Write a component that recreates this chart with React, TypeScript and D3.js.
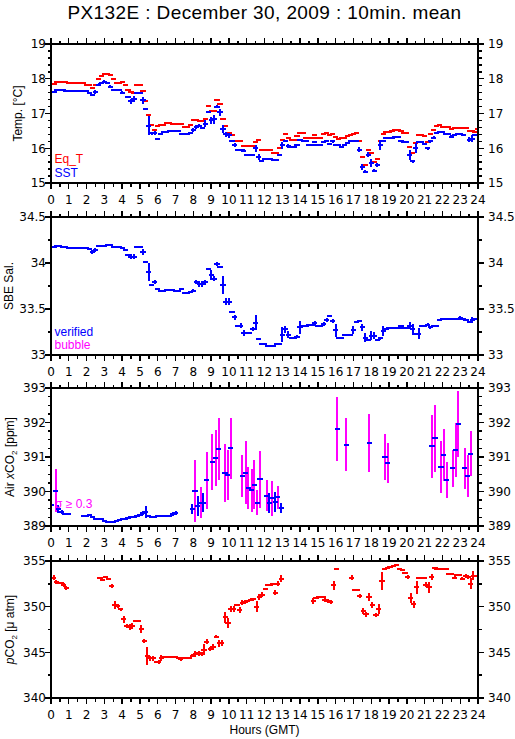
import React from "react";
import * as d3 from "d3";

type Rec = [number, number, number, number]; // t0, t1, value, half error

const TITLE = "PX132E : December 30, 2009 : 10min. mean";
const HOUR_TICKS = d3.range(0, 25);
const TEMP_TICKS = [15, 16, 17, 18, 19];
const SAL_TICKS = [33, 33.5, 34, 34.5];
const XCO2_TICKS = [389, 390, 391, 392, 393];
const PCO2_TICKS = [340, 345, 350, 355];
const SIGMA_LIMIT = 0.3;

const EQ_T: Rec[] = [
  [0, 0.17, 17.85, 0], [0.33, 0.5, 17.9, 0], [0.67, 0.83, 17.91, 0], [1.0, 1.83, 17.88, 0],
  [2.0, 2.17, 17.83, 0], [2.33, 2.33, 17.73, 0], [2.5, 2.5, 17.82, 0], [2.67, 2.67, 18.0, 0],
  [2.83, 2.83, 18.08, 0], [3.0, 3.17, 18.13, 0], [3.33, 3.33, 18.1, 0], [3.5, 3.5, 17.98, 0],
  [3.67, 3.83, 17.88, 0], [4.0, 4.0, 17.9, 0], [4.17, 4.17, 17.83, 0], [4.33, 4.33, 17.68, 0],
  [4.5, 4.5, 17.63, 0], [4.67, 4.67, 17.6, 0], [4.83, 5.0, 17.82, 0], [5.17, 5.17, 17.65, 0],
  [5.33, 5.33, 17.35, 0], [5.5, 5.5, 16.95, 0], [5.67, 5.67, 16.67, 0], [5.83, 5.83, 16.52, 0],
  [6.0, 6.0, 16.63, 0], [6.17, 6.33, 16.68, 0], [6.5, 6.67, 16.72, 0], [6.83, 7.33, 16.69, 0],
  [7.5, 7.67, 16.6, 0], [7.83, 7.83, 16.67, 0], [8.0, 8.17, 16.82, 0], [8.33, 8.5, 16.78, 0],
  [8.67, 8.67, 16.85, 0], [8.83, 8.83, 17.22, 0], [9.0, 9.17, 17.06, 0], [9.33, 9.33, 17.38, 0],
  [9.5, 9.5, 17.28, 0], [9.67, 9.67, 16.83, 0], [9.83, 9.83, 16.63, 0], [10.0, 10.0, 16.45, 0],
  [10.17, 10.17, 16.38, 0], [10.33, 10.67, 16.2, 0], [10.83, 11.33, 16.07, 0], [11.5, 11.5, 16.18, 0],
  [11.67, 11.67, 16.25, 0], [11.83, 12.33, 15.94, 0], [12.5, 12.67, 15.85, 0], [12.83, 12.83, 16.0, 0],
  [13.0, 13.0, 16.25, 0], [13.17, 13.17, 16.4, 0], [13.33, 13.33, 16.3, 0], [13.5, 13.67, 16.25, 0],
  [13.83, 13.83, 16.35, 0], [14.0, 14.17, 16.44, 0], [14.33, 14.67, 16.3, 0], [14.83, 14.83, 16.37, 0],
  [15.0, 15.17, 16.3, 0], [15.33, 15.33, 16.4, 0], [15.5, 15.5, 16.45, 0], [15.67, 15.67, 16.37, 0],
  [15.83, 15.83, 16.42, 0], [16.0, 16.0, 16.33, 0], [16.17, 16.17, 16.28, 0], [16.33, 16.5, 16.3, 0],
  [16.67, 16.67, 16.35, 0], [16.83, 16.83, 16.38, 0], [17.0, 17.0, 16.4, 0], [17.17, 17.17, 16.43, 0],
  [17.33, 17.33, 16.22, 0], [17.5, 17.5, 15.75, 0], [17.67, 17.67, 15.53, 0], [17.83, 17.83, 15.96, 0],
  [18.0, 18.0, 15.85, 0], [18.17, 18.17, 15.6, 0], [18.33, 18.33, 15.7, 0], [18.5, 18.5, 16.22, 0],
  [18.67, 18.67, 16.4, 0], [18.83, 19.0, 16.47, 0], [19.17, 19.17, 16.5, 0], [19.33, 19.5, 16.53, 0],
  [19.67, 19.67, 16.5, 0], [19.83, 19.83, 16.45, 0], [20.0, 20.0, 16.43, 0], [20.17, 20.17, 16.03, 0],
  [20.33, 20.33, 15.85, 0], [20.5, 20.5, 16.14, 0], [20.67, 20.83, 16.37, 0], [21.0, 21.0, 16.35, 0],
  [21.17, 21.17, 16.18, 0], [21.33, 21.33, 16.42, 0], [21.5, 21.5, 16.52, 0], [21.67, 21.67, 16.64, 0],
  [21.83, 21.83, 16.66, 0], [22.0, 22.33, 16.62, 0], [22.5, 22.5, 16.55, 0], [22.67, 23.33, 16.57, 0],
  [23.5, 23.67, 16.5, 0], [23.83, 23.83, 16.47, 0], [24.0, 24.0, 16.55, 0],
];

const SST: Rec[] = [
  [0, 0.17, 17.63, 0], [0.33, 0.67, 17.67, 0], [0.83, 0.83, 17.65, 0.03], [1.0, 2.0, 17.65, 0],
  [2.17, 2.17, 17.6, 0], [2.33, 2.33, 17.53, 0], [2.5, 2.5, 17.62, 0.07], [2.67, 2.67, 17.83, 0.05],
  [2.83, 2.83, 17.88, 0], [3.0, 3.0, 17.92, 0.03], [3.17, 3.17, 17.88, 0.03], [3.33, 3.33, 17.77, 0.05],
  [3.5, 3.83, 17.67, 0], [4.0, 4.0, 17.6, 0.05], [4.33, 4.33, 17.48, 0], [4.5, 4.5, 17.35, 0.08],
  [4.67, 4.67, 17.42, 0.08], [4.83, 5.0, 17.6, 0], [5.17, 5.17, 17.38, 0.1], [5.33, 5.33, 17.13, 0],
  [5.5, 5.5, 16.65, 0.28], [5.67, 5.67, 16.43, 0.04], [5.83, 5.83, 16.45, 0.06], [6.0, 6.0, 16.28, 0],
  [6.17, 6.17, 16.42, 0.03], [6.33, 6.5, 16.47, 0], [6.67, 7.17, 16.5, 0], [7.33, 7.67, 16.4, 0.02],
  [7.83, 7.83, 16.45, 0], [8.0, 8.0, 16.52, 0.05], [8.17, 8.17, 16.62, 0.06], [8.33, 8.33, 16.65, 0.05],
  [8.5, 8.5, 16.58, 0], [8.67, 8.67, 16.7, 0.1], [8.83, 8.83, 17.05, 0], [9.0, 9.0, 16.8, 0.1],
  [9.17, 9.17, 16.83, 0.12], [9.33, 9.33, 17.2, 0.05], [9.5, 9.5, 17.03, 0.1], [9.67, 9.67, 16.55, 0.12],
  [9.83, 9.83, 16.4, 0.08], [10.0, 10.0, 16.37, 0.07], [10.17, 10.17, 16.22, 0], [10.33, 10.33, 16.1, 0.06],
  [10.5, 10.67, 15.95, 0], [10.83, 10.83, 15.93, 0.05], [11.0, 11.33, 15.82, 0], [11.5, 11.5, 16.0, 0.1],
  [11.67, 11.67, 15.75, 0.08], [11.83, 11.83, 15.63, 0], [12.0, 12.33, 15.7, 0], [12.5, 12.67, 15.66, 0],
  [12.83, 12.83, 15.82, 0], [13.0, 13.0, 16.08, 0.1], [13.17, 13.17, 16.2, 0], [13.33, 13.33, 16.06, 0.05],
  [13.5, 13.67, 16.04, 0], [13.83, 13.83, 16.1, 0], [14.0, 14.0, 16.25, 0], [14.17, 14.33, 16.2, 0],
  [14.5, 14.67, 16.1, 0], [14.83, 14.83, 16.18, 0.03], [15.0, 15.17, 16.1, 0], [15.33, 15.33, 16.18, 0.03],
  [15.5, 15.5, 16.22, 0.03], [15.67, 15.67, 16.12, 0], [15.83, 15.83, 16.2, 0.04], [16.0, 16.17, 16.1, 0],
  [16.33, 16.33, 16.04, 0.03], [16.5, 16.5, 16.1, 0], [16.67, 16.67, 16.15, 0], [16.83, 17.17, 16.2, 0],
  [17.33, 17.33, 15.96, 0.08], [17.5, 17.5, 15.46, 0.1], [17.67, 17.67, 15.33, 0.05], [17.83, 17.83, 15.82, 0.08],
  [18.0, 18.0, 15.57, 0.12], [18.17, 18.17, 15.35, 0.04], [18.33, 18.33, 15.52, 0.05], [18.5, 18.5, 16.1, 0.15],
  [18.67, 18.67, 16.22, 0], [18.83, 19.17, 16.3, 0], [19.33, 19.5, 16.33, 0.02], [19.67, 19.67, 16.22, 0],
  [19.83, 20.0, 16.18, 0], [20.17, 20.17, 15.8, 0.15], [20.33, 20.33, 15.62, 0.04], [20.5, 20.5, 16.0, 0.15],
  [20.67, 20.83, 16.17, 0], [21.0, 21.0, 16.12, 0.04], [21.17, 21.17, 16.0, 0.05], [21.33, 21.33, 16.2, 0.05],
  [21.5, 21.5, 16.3, 0.04], [21.67, 21.67, 16.43, 0], [21.83, 22.0, 16.46, 0], [22.17, 22.33, 16.42, 0],
  [22.5, 22.5, 16.33, 0.04], [22.67, 22.67, 16.37, 0.03], [22.83, 23.0, 16.4, 0], [23.17, 23.17, 16.37, 0.03],
  [23.5, 23.5, 16.25, 0.08], [23.67, 23.67, 16.28, 0.1], [23.83, 24.0, 16.37, 0],
];

const SAL: Rec[] = [
  [0, 0.17, 34.17, 0], [0.33, 0.5, 34.19, 0], [0.67, 0.83, 34.17, 0], [1.0, 2.0, 34.16, 0],
  [2.17, 2.17, 34.15, 0], [2.33, 2.33, 34.12, 0.02], [2.5, 2.5, 34.14, 0.02], [2.67, 2.67, 34.18, 0],
  [2.83, 3.0, 34.19, 0], [3.17, 3.33, 34.2, 0], [3.5, 3.83, 34.17, 0], [4.0, 4.0, 34.16, 0],
  [4.17, 4.17, 34.14, 0], [4.33, 4.33, 34.09, 0], [4.5, 4.5, 34.07, 0.03], [4.67, 4.67, 34.07, 0.03],
  [4.83, 5.0, 34.17, 0], [5.17, 5.17, 34.12, 0.03], [5.33, 5.33, 34.01, 0], [5.5, 5.5, 33.9, 0.1],
  [5.67, 5.67, 33.76, 0], [5.83, 5.83, 33.79, 0.02], [6.0, 6.0, 33.72, 0], [6.17, 6.33, 33.7, 0],
  [6.5, 6.83, 33.71, 0], [7.0, 7.17, 33.7, 0], [7.33, 7.33, 33.72, 0.01], [7.5, 7.67, 33.67, 0],
  [7.83, 7.83, 33.68, 0], [8.0, 8.0, 33.7, 0.02], [8.17, 8.17, 33.79, 0.02], [8.33, 8.33, 33.77, 0.03],
  [8.5, 8.5, 33.77, 0.03], [8.67, 8.67, 33.79, 0.03], [8.83, 8.83, 33.94, 0], [9.0, 9.0, 33.87, 0.05],
  [9.17, 9.17, 33.83, 0.03], [9.33, 9.33, 33.99, 0.02], [9.5, 9.5, 33.96, 0], [9.67, 9.67, 33.76, 0.1],
  [9.83, 9.83, 33.58, 0.04], [10.0, 10.0, 33.58, 0.04], [10.17, 10.17, 33.47, 0], [10.33, 10.33, 33.41, 0.03],
  [10.5, 10.5, 33.31, 0], [10.67, 10.67, 33.32, 0.03], [10.83, 10.83, 33.24, 0.03], [11.0, 11.17, 33.24, 0],
  [11.33, 11.33, 33.28, 0.02], [11.5, 11.5, 33.35, 0.08], [11.67, 11.67, 33.17, 0], [11.83, 12.0, 33.12, 0],
  [12.17, 12.5, 33.1, 0], [12.67, 12.83, 33.12, 0], [13.0, 13.0, 33.22, 0.08], [13.17, 13.17, 33.28, 0.04],
  [13.33, 13.33, 33.22, 0.04], [13.5, 13.67, 33.18, 0], [13.83, 13.83, 33.2, 0.02], [14.0, 14.0, 33.3, 0.07],
  [14.17, 14.33, 33.32, 0], [14.5, 14.67, 33.33, 0], [14.83, 14.83, 33.35, 0.02], [15.0, 15.17, 33.31, 0],
  [15.33, 15.33, 33.34, 0.02], [15.5, 15.5, 33.38, 0.02], [15.67, 15.67, 33.42, 0], [15.83, 15.83, 33.37, 0.02],
  [16.0, 16.0, 33.27, 0.07], [16.17, 16.33, 33.19, 0], [16.5, 16.83, 33.22, 0], [17.0, 17.0, 33.27, 0.04],
  [17.17, 17.17, 33.36, 0], [17.33, 17.33, 33.37, 0], [17.5, 17.5, 33.3, 0.04], [17.67, 17.67, 33.19, 0.05],
  [17.83, 17.83, 33.16, 0], [18.0, 18.0, 33.21, 0.05], [18.17, 18.17, 33.21, 0.04], [18.33, 18.33, 33.16, 0],
  [18.5, 18.5, 33.18, 0.02], [18.67, 18.67, 33.26, 0.05], [18.83, 18.83, 33.28, 0], [19.0, 19.5, 33.29, 0],
  [19.67, 19.67, 33.32, 0], [19.83, 20.0, 33.29, 0], [20.17, 20.17, 33.32, 0.04], [20.33, 20.33, 33.28, 0.06],
  [20.5, 20.5, 33.23, 0], [20.67, 20.67, 33.23, 0.06], [20.83, 21.0, 33.31, 0], [21.17, 21.17, 33.33, 0.02],
  [21.33, 21.33, 33.3, 0.02], [21.5, 21.67, 33.32, 0], [21.83, 21.83, 33.38, 0], [22.0, 22.83, 33.39, 0],
  [23.0, 23.0, 33.4, 0.02], [23.17, 23.17, 33.39, 0], [23.33, 23.33, 33.38, 0], [23.5, 23.5, 33.36, 0],
  [23.67, 23.67, 33.38, 0.03], [23.83, 24.0, 33.39, 0],
];

const XCO2: Rec[] = [
  [0.0, 0.0, 389.6, 0.2], [0.26, 0.26, 390.02, 0.62], [0.41, 0.41, 389.5, 0.12], [0.6, 0.6, 389.4, 0.05],
  [0.79, 0.79, 389.35, 0.03], [0.97, 0.97, 389.35, 0],
  [1.83, 2.0, 389.3, 0], [2.17, 2.17, 389.32, 0.03], [2.33, 2.33, 389.27, 0], [2.5, 2.83, 389.2, 0],
  [3.0, 3.0, 389.15, 0], [3.17, 3.5, 389.12, 0], [3.67, 3.67, 389.14, 0], [3.83, 3.83, 389.17, 0],
  [4.0, 4.17, 389.2, 0], [4.33, 4.33, 389.22, 0], [4.5, 4.5, 389.25, 0], [4.67, 4.67, 389.26, 0],
  [4.83, 4.83, 389.28, 0], [5.0, 5.0, 389.33, 0.03], [5.17, 5.17, 389.38, 0.05], [5.33, 5.33, 389.4, 0.17],
  [5.5, 5.5, 389.3, 0], [5.67, 5.83, 389.27, 0], [6.0, 6.17, 389.28, 0], [6.33, 6.5, 389.3, 0],
  [6.67, 6.67, 389.3, 0.02], [6.83, 6.83, 389.35, 0.05], [7.0, 7.0, 389.38, 0.05],
  [7.94, 7.94, 389.5, 0.15], [8.09, 8.09, 390.02, 0.9], [8.24, 8.24, 389.57, 0.29], [8.43, 8.43, 389.68, 0.46],
  [8.56, 8.56, 389.68, 0.28], [8.75, 8.75, 390.32, 0.83], [9.06, 9.06, 390.85, 0.82], [9.25, 9.25, 390.97, 0.8],
  [9.42, 9.42, 391.23, 0.9], [9.78, 9.78, 390.53, 0.84], [9.94, 9.94, 390.47, 0.73], [10.09, 10.09, 391.25, 0.88],
  [10.75, 10.75, 390.45, 0.62], [10.94, 10.94, 390.55, 0.9], [11.09, 11.09, 390.1, 0.6], [11.27, 11.27, 390.04, 0.62],
  [11.42, 11.42, 390.2, 0.7], [11.59, 11.59, 389.68, 0.35], [11.75, 11.75, 390.35, 0.83], [12.12, 12.12, 389.88, 0.45],
  [12.27, 12.27, 389.68, 0.29], [12.44, 12.44, 389.8, 0.5], [12.6, 12.6, 389.7, 0.28], [12.75, 12.75, 389.83, 0.33],
  [12.95, 12.95, 389.53, 0.15],
  [16.1, 16.1, 391.8, 0.93], [16.6, 16.6, 391.35, 0.77], [17.9, 17.9, 391.4, 0.84], [18.77, 18.77, 391.0, 0.68],
  [18.92, 18.92, 390.82, 0.58], [21.42, 21.42, 391.31, 0.91], [21.58, 21.58, 391.54, 0.98], [21.92, 21.92, 390.7, 0.75],
  [22.07, 22.07, 391.05, 0.76], [22.24, 22.24, 390.33, 0.53], [22.57, 22.57, 390.67, 0.53], [22.74, 22.74, 391.2, 0.78],
  [22.89, 22.89, 391.95, 0.95], [23.25, 23.25, 390.67, 0.6], [23.41, 23.41, 390.45, 0.6], [23.58, 23.58, 391.1, 0.65],
];

const PCO2: Rec[] = [
  [0.0, 0.0, 353.18, 0], [0.15, 0.15, 353.18, 0.25], [0.3, 0.3, 352.7, 0.2], [0.45, 0.6, 352.64, 0],
  [0.72, 0.72, 352.35, 0.25], [0.87, 0.87, 352.05, 0.2],
  [2.75, 2.75, 353.15, 0], [2.9, 2.9, 352.97, 0], [3.08, 3.08, 353.26, 0], [3.25, 3.25, 353.0, 0],
  [3.42, 3.42, 352.24, 0.25], [3.6, 3.6, 350.17, 0.4], [3.75, 3.75, 350.1, 0.2], [3.92, 3.92, 349.73, 0.15],
  [4.08, 4.08, 348.6, 0.4], [4.25, 4.25, 347.9, 0.2], [4.42, 4.42, 347.8, 0.35], [4.58, 4.58, 347.9, 0.3],
  [4.75, 4.92, 348.42, 0], [5.08, 5.08, 347.55, 0.4], [5.25, 5.25, 346.25, 0.2], [5.42, 5.42, 344.6, 0.95],
  [5.58, 5.58, 344.35, 0.25], [5.75, 5.75, 344.35, 0.3], [5.92, 5.92, 343.9, 0], [6.05, 6.05, 343.92, 0.2],
  [6.2, 6.2, 344.36, 0.3], [6.35, 7.0, 344.5, 0], [7.15, 7.15, 344.36, 0], [7.3, 7.3, 344.25, 0.15],
  [7.45, 7.8, 344.36, 0], [7.95, 7.95, 344.64, 0.15], [8.1, 8.1, 344.8, 0.3], [8.3, 8.3, 344.9, 0.3],
  [8.5, 8.5, 344.8, 0.2], [8.6, 8.6, 345.27, 0.6], [8.75, 8.75, 346.17, 0.3], [8.95, 8.95, 345.37, 0.2],
  [9.1, 9.1, 345.6, 0.35], [9.3, 9.3, 346.72, 0.2], [9.45, 9.45, 346.0, 0.4], [9.6, 9.6, 346.0, 0.3],
  [9.8, 9.8, 348.85, 0.6], [9.95, 9.95, 348.17, 0.55], [10.12, 10.12, 349.73, 0.3], [10.28, 10.28, 349.73, 0.3],
  [10.45, 10.45, 350.17, 0.15], [10.6, 10.6, 349.62, 0.3], [10.75, 10.75, 350.45, 0.3], [10.9, 10.9, 350.53, 0.2],
  [11.05, 11.05, 350.64, 0], [11.2, 11.2, 350.7, 0], [11.35, 11.35, 350.8, 0.2], [11.56, 11.56, 350.0, 0.6],
  [11.7, 11.7, 351.08, 0.3], [11.88, 11.88, 351.33, 0.3], [12.05, 12.05, 351.98, 0.1], [12.2, 12.35, 352.35, 0],
  [12.45, 12.45, 352.45, 0], [12.6, 12.6, 351.55, 0.25], [12.75, 12.75, 352.53, 0.25], [12.95, 12.95, 353.07, 0.35],
  [14.75, 14.75, 350.64, 0.3], [14.9, 14.9, 350.9, 0], [15.06, 15.06, 351.08, 0], [15.2, 15.3, 351.04, 0],
  [15.4, 15.4, 350.7, 0.2], [15.55, 15.55, 350.6, 0.2], [15.72, 15.72, 350.53, 0.2], [15.9, 15.9, 352.35, 0.5],
  [16.05, 16.05, 354.16, 0],
  [16.9, 16.9, 353.18, 0.3], [17.05, 17.05, 351.87, 0], [17.2, 17.2, 351.8, 0], [17.36, 17.36, 351.18, 0.25],
  [17.55, 17.55, 349.5, 0.3], [17.7, 17.7, 349.15, 0.3], [17.87, 17.87, 351.08, 0.45], [18.05, 18.05, 350.17, 0.35],
  [18.24, 18.3, 349.08, 0.2], [18.42, 18.42, 349.75, 0.55], [18.6, 18.6, 352.8, 1.0], [18.75, 18.75, 354.16, 0],
  [18.9, 18.9, 354.27, 0], [19.05, 19.05, 354.35, 0], [19.25, 19.25, 354.42, 0], [19.42, 19.42, 354.53, 0],
  [19.58, 19.58, 354.16, 0], [19.75, 19.75, 354.05, 0], [19.9, 19.9, 353.73, 0], [20.05, 20.05, 353.26, 0.2],
  [20.21, 20.21, 350.9, 0.55], [20.38, 20.38, 350.24, 0.35], [20.55, 20.55, 352.1, 0.75], [20.68, 20.68, 353.15, 0],
  [20.83, 20.97, 353.18, 0], [21.06, 21.06, 352.42, 0.25], [21.25, 21.25, 352.1, 0.6], [21.4, 21.4, 353.26, 0.3],
  [21.58, 21.58, 354.27, 0], [21.7, 22.2, 354.16, 0], [22.37, 22.5, 353.6, 0], [22.7, 22.7, 353.18, 0.15],
  [22.82, 22.97, 353.44, 0], [23.12, 23.12, 353.07, 0.2], [23.3, 23.3, 353.37, 0.25], [23.45, 23.45, 353.26, 0.25],
  [23.6, 23.6, 352.53, 0.6], [23.73, 23.73, 353.37, 0.5], [23.87, 23.87, 353.33, 0],
];

const W = 515;
const H = 739;
const LEFT = 51;
const RIGHT = 478;
const TICK_FONT = "'DejaVu Sans', sans-serif";
const LABEL_FONT = "'Liberation Sans', Arial, sans-serif";
const BLUE = "#0000ff";
const RED = "#ff0000";
const MAGENTA = "#ff00ff";

const x = d3.scaleLinear().domain([0, 24]).range([LEFT, RIGHT]);

type PanelSpec = {
  id: string;
  top: number;
  bottom: number;
  domain: [number, number];
  ticks: number[];
  minor: number;
  labelX: number;
};

const PANELS: PanelSpec[] = [
  { id: "p1", top: 44, bottom: 183, domain: [15, 19], ticks: TEMP_TICKS, minor: 0.2, labelX: 21.5 },
  { id: "p2", top: 217, bottom: 355, domain: [33, 34.5], ticks: SAL_TICKS, minor: 0.25, labelX: 12.5 },
  { id: "p3", top: 388, bottom: 526, domain: [389, 393], ticks: XCO2_TICKS, minor: 0.25, labelX: 14 },
  { id: "p4", top: 561, bottom: 698, domain: [340, 355], ticks: PCO2_TICKS, minor: 2.5, labelX: 14 },
];

function yScale(p: PanelSpec) {
  return d3.scaleLinear().domain(p.domain).range([p.bottom, p.top]);
}

function Frame({ p }: { p: PanelSpec }) {
  const y = yScale(p);
  const fmt = (v: number) => String(v);
  const minors = d3
    .range(p.domain[0], p.domain[1] + 1e-9, p.minor)
    .filter((v) => !p.ticks.some((t) => Math.abs(t - v) < 1e-6));
  const halfHours = d3.range(0.5, 24, 1);
  const sw = 1.4;
  return (
    <g stroke="#000" strokeWidth={sw} shapeRendering="crispEdges">
      <rect x={LEFT} y={p.top} width={RIGHT - LEFT} height={p.bottom - p.top} fill="none" />
      {HOUR_TICKS.map((h) => (
        <g key={"h" + h}>
          <line x1={x(h)} x2={x(h)} y1={p.top} y2={p.top - 6} />
          <line x1={x(h)} x2={x(h)} y1={p.bottom} y2={p.bottom + 6} />
        </g>
      ))}
      {halfHours.map((h) => (
        <g key={"m" + h}>
          <line x1={x(h)} x2={x(h)} y1={p.top} y2={p.top - 3.5} />
          <line x1={x(h)} x2={x(h)} y1={p.bottom} y2={p.bottom + 3.5} />
        </g>
      ))}
      {p.ticks.map((t) => (
        <g key={"t" + t}>
          <line x1={LEFT} x2={LEFT - 6} y1={y(t)} y2={y(t)} />
          <line x1={RIGHT} x2={RIGHT + 6} y1={y(t)} y2={y(t)} />
        </g>
      ))}
      {minors.map((t) => (
        <g key={"n" + t}>
          <line x1={LEFT} x2={LEFT - 3.5} y1={y(t)} y2={y(t)} />
          <line x1={RIGHT} x2={RIGHT + 3.5} y1={y(t)} y2={y(t)} />
        </g>
      ))}
      <g stroke="none" fill="#000" fontFamily={TICK_FONT} fontSize={12}>
        {p.ticks.map((t) => (
          <g key={"l" + t}>
            <text x={LEFT - 5} y={y(t) + 4.3} textAnchor="end">{fmt(t)}</text>
            <text x={RIGHT + 10} y={y(t) + 4.3} textAnchor="start">{fmt(t)}</text>
          </g>
        ))}
        {HOUR_TICKS.map((h) => (
          <text key={"x" + h} x={x(h)} y={p.bottom + 20.5} textAnchor="middle">{h}</text>
        ))}
      </g>
    </g>
  );
}

function Marks({
  p,
  data,
  color,
  errColor,
}: {
  p: PanelSpec;
  data: Rec[];
  color: string;
  errColor?: (e: number) => string;
}) {
  const y = yScale(p);
  const hw = 2.6;
  return (
    <g clipPath={`url(#clip-${p.id})`} strokeWidth={2} fill="none" shapeRendering="crispEdges">
      {data.map(([t0, t1, v, e], i) =>
        e > 0 ? (
          <line
            key={"e" + i}
            x1={x((t0 + t1) / 2)}
            x2={x((t0 + t1) / 2)}
            y1={y(v - e)}
            y2={y(v + e)}
            stroke={errColor ? errColor(e) : color}
          />
        ) : null
      )}
      {data.map(([t0, t1, v], i) => (
        <line key={"h" + i} x1={x(t0) - hw} x2={x(t1) + hw} y1={y(v)} y2={y(v)} stroke={color} />
      ))}
    </g>
  );
}

export default function App() {
  const [p1, p2, p3, p4] = PANELS;
  const mid = (p: PanelSpec) => (p.top + p.bottom) / 2;
  return (
    <svg width={W} height={H} viewBox={`0 0 ${W} ${H}`} style={{ display: "block", position: "absolute", left: 0, top: 0, background: "#fff" }}>
      <rect x={0} y={0} width={W} height={H} fill="#fff" />
      <defs>
        {PANELS.map((p) => (
          <clipPath key={p.id} id={`clip-${p.id}`}>
            <rect x={LEFT} y={p.top} width={RIGHT - LEFT} height={p.bottom - p.top} />
          </clipPath>
        ))}
      </defs>
      <text x={(LEFT + RIGHT) / 2} y={18.5} textAnchor="middle" fontFamily={LABEL_FONT} fontSize={19} letterSpacing={0.4}>
        {TITLE}
      </text>

      <Marks p={p1} data={EQ_T} color={RED} />
      <Marks p={p1} data={SST} color={BLUE} />
      <Marks p={p2} data={SAL} color={BLUE} />
      <Marks p={p3} data={XCO2} color={BLUE} errColor={(e) => (e >= SIGMA_LIMIT ? MAGENTA : BLUE)} />
      <Marks p={p4} data={PCO2} color={RED} />

      {PANELS.map((p) => (
        <Frame key={p.id} p={p} />
      ))}

      <g fontFamily={LABEL_FONT} fontSize={12}>
        <text x={54.5} y={163.3} fill={RED}>Eq_T</text>
        <text x={54.5} y={176.7} fill={BLUE}>SST</text>
        <text x={54.5} y={336} fill={BLUE}>verified</text>
        <text x={54.5} y={349} fill={MAGENTA}>bubble</text>
        <text x={55} y={508} fill={MAGENTA}>σ ≥ 0.3</text>

        <text transform={`translate(${p1.labelX},${mid(p1)}) rotate(-90)`} textAnchor="middle">Temp. [°C]</text>
        <text transform={`translate(${p2.labelX},${mid(p2)}) rotate(-90)`} textAnchor="middle">SBE Sal.</text>
        <text transform={`translate(${p3.labelX},${mid(p3)}) rotate(-90)`} textAnchor="middle">
          Air <tspan fontStyle="italic">x</tspan>CO<tspan fontSize={8} dy={3}>2</tspan>
          <tspan dy={-3}> [ppm]</tspan>
        </text>
        <text transform={`translate(${p4.labelX},${mid(p4)}) rotate(-90)`} textAnchor="middle">
          <tspan fontStyle="italic">p</tspan>CO<tspan fontSize={8} dy={3}>2</tspan>
          <tspan dy={-3}> [μ atm]</tspan>
        </text>
        <text x={(LEFT + RIGHT) / 2} y={734} textAnchor="middle">Hours (GMT)</text>
      </g>
    </svg>
  );
}
